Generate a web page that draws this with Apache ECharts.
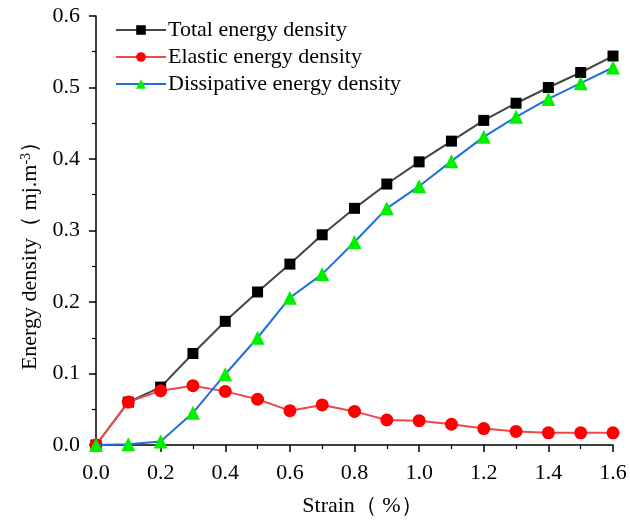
<!DOCTYPE html>
<html>
<head>
<meta charset="utf-8">
<script src="https://cdn.jsdelivr.net/npm/echarts@6/dist/echarts.min.js"></script>
<style>
  html, body { margin: 0; padding: 0; background: #fff; }
  #chart { width: 630px; height: 522px; }
</style>
</head>
<body>
<div id="chart"></div>
<script>
// Strain (%) at each measurement step
const strain = [0.0, 0.1, 0.2, 0.3, 0.4, 0.5, 0.6, 0.7, 0.8, 0.9, 1.0, 1.1, 1.2, 1.3, 1.4, 1.5, 1.6];

// Energy densities (mj.m^-3)
const totalEnergy = [0.000, 0.060, 0.081, 0.128, 0.173, 0.214, 0.253, 0.294, 0.331, 0.365, 0.396, 0.425, 0.454, 0.478, 0.500, 0.521, 0.544];
const elasticEnergy = [0.000, 0.060, 0.076, 0.083, 0.075, 0.064, 0.048, 0.056, 0.047, 0.035, 0.034, 0.029, 0.023, 0.019, 0.017, 0.017, 0.017];
const dissipativeEnergy = [0.000, 0.001, 0.005, 0.045, 0.099, 0.150, 0.206, 0.239, 0.284, 0.331, 0.362, 0.397, 0.431, 0.459, 0.484, 0.506, 0.528];

const seriesNames = ['Total energy density', 'Elastic energy density', 'Dissipative energy density'];

const pairs = ys => strain.map((x, i) => [x, ys[i]]);

const serif = '"Liberation Serif", "Times New Roman", serif';

const chart = echarts.init(document.getElementById('chart'), null, { renderer: 'canvas' });

const axisCommon = {
  axisLine: { show: true, lineStyle: { color: '#000', width: 1.5 } },
  axisTick: { show: true, inside: false, length: 7, lineStyle: { color: '#000', width: 1.5 } },
  minorTick: { show: true, splitNumber: 2, length: 4, lineStyle: { color: '#000', width: 1.2 } },
  splitLine: { show: false },
  minorSplitLine: { show: false }
};

chart.setOption({
  animation: false,
  backgroundColor: '#fff',
  grid: { left: 96, right: 17, top: 16, bottom: 75, containLabel: false },
  legend: {
    orient: 'vertical',
    left: 110,
    top: 14,
    itemWidth: 50,
    itemHeight: 12,
    itemGap: 5,
    data: seriesNames,
    textStyle: { fontFamily: serif, fontSize: 22, color: '#000', padding: [0, 0, 0, -3] }
  },
  xAxis: Object.assign({
    type: 'value',
    min: 0,
    max: 1.6,
    interval: 0.2,
    name: 'Strain（ %）',
    nameLocation: 'middle',
    nameGap: 50,
    nameTextStyle: { fontFamily: serif, fontSize: 22, color: '#000', padding: [0, 0, 0, 16] },
    axisLabel: {
      margin: 17,
      fontFamily: serif, fontSize: 22, color: '#000',
      formatter: v => v.toFixed(1)
    }
  }, axisCommon),
  yAxis: Object.assign({
    type: 'value',
    min: 0,
    max: 0.6,
    interval: 0.1,
    name: '{n|Energy density（ mj.m}{s|-3}{n|）}',
    nameLocation: 'middle',
    nameGap: 54,
    nameTextStyle: {
      padding: [0, 40, 0, 0],
      rich: {
        n: { fontFamily: serif, fontSize: 22, color: '#000' },
        s: { fontFamily: serif, fontSize: 14, color: '#000', verticalAlign: 'top', padding: [0, 0, 9, 0] }
      }
    },
    axisLabel: {
      margin: 16,
      fontFamily: serif, fontSize: 22, color: '#000',
      formatter: v => v.toFixed(1)
    }
  }, axisCommon),
  series: [
    {
      name: seriesNames[0],
      type: 'line',
      data: pairs(totalEnergy),
      symbol: 'rect',
      symbolSize: 11,
      z: 3,
      lineStyle: { color: '#454545', width: 2 },
      itemStyle: { color: '#000' }
    },
    {
      name: seriesNames[1],
      type: 'line',
      data: pairs(elasticEnergy),
      symbol: 'circle',
      symbolSize: 13,
      z: 4,
      lineStyle: { color: '#f04848', width: 2 },
      itemStyle: { color: '#ff0000' }
    },
    {
      name: seriesNames[2],
      type: 'line',
      data: pairs(dissipativeEnergy),
      symbol: 'triangle',
      symbolSize: 14,
      z: 5,
      lineStyle: { color: '#1f6fdc', width: 2 },
      itemStyle: { color: '#00f000' }
    }
  ]
});
</script>
</body>
</html>
